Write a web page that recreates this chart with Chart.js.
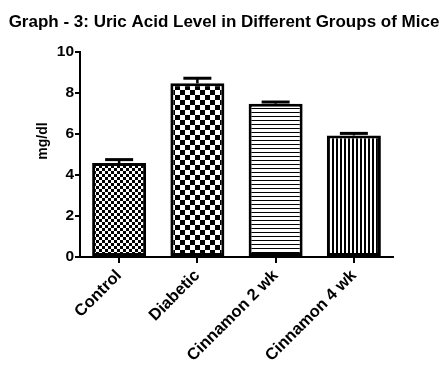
<!DOCTYPE html>
<html>
<head>
<meta charset="utf-8">
<script src="https://cdn.jsdelivr.net/npm/chart.js@4.4.0/dist/chart.umd.min.js"></script>
<style>
  html, body { margin: 0; padding: 0; background: #fff; }
  #wrap { width: 445px; height: 365px; position: relative; }
</style>
</head>
<body>
<div id="wrap"><canvas id="uricChart"></canvas></div>
<script>
// data
const groups = ['Control', 'Diabetic', 'Cinnamon 2 wk', 'Cinnamon 4 wk'];
const uricMeans = [4.58, 8.47, 7.48, 5.93];
const uricErrors = [0.17, 0.25, 0.08, 0.1];
const yTicks = [0, 2, 4, 6, 8, 10];
const chartTitle = 'Graph - 3: Uric Acid Level in Different Groups of Mice';
const FONT = 'Arial, "Liberation Sans", sans-serif';

// fill patterns like the GraphPad bars
function makePattern(kind) {
    const c = document.createElement('canvas');
    const g = c.getContext('2d');
    if (kind === 'checkSmall' || kind === 'checkBig') {
        const s = kind === 'checkSmall' ? 3 : 5;
        c.width = c.height = s * 2;
        g.fillStyle = '#fff';
        g.fillRect(0, 0, s * 2, s * 2);
        g.fillStyle = '#000';
        g.fillRect(0, 0, s, s);
        g.fillRect(s, s, s, s);
    } else if (kind === 'horiz') {
        c.width = 4; c.height = 4;
        g.fillStyle = '#fff';
        g.fillRect(0, 0, 4, 4);
        g.fillStyle = '#000';
        g.fillRect(0, 0, 4, 1);
    } else {
        c.width = 4; c.height = 4;
        g.fillStyle = '#fff';
        g.fillRect(0, 0, 4, 4);
        g.fillStyle = '#000';
        g.fillRect(0, 0, 2, 4);
    }
    return g.createPattern(c, 'repeat');
}
const fills = ['checkSmall', 'checkBig', 'horiz', 'vert'].map(makePattern);

// error bars (upper half only, the rest sits inside the bar)
const errorBars = {
    id: 'errorBars',
    afterDatasetsDraw(chart) {
        const ctx = chart.ctx;
        const meta = chart.getDatasetMeta(0);
        const y = chart.scales.y;
        ctx.save();
        ctx.strokeStyle = '#000';
        meta.data.forEach((bar, i) => {
            const top = y.getPixelForValue(uricMeans[i] + uricErrors[i]);
            ctx.lineWidth = 2.5;
            ctx.beginPath();
            ctx.moveTo(bar.x, bar.y);
            ctx.lineTo(bar.x, top);
            ctx.stroke();
            ctx.lineWidth = 3;
            ctx.beginPath();
            ctx.moveTo(bar.x - 14, top);
            ctx.lineTo(bar.x + 14, top);
            ctx.stroke();
        });
        ctx.restore();
    }
};

// title across the whole canvas and y axis title, placed like the original
const texts = {
    id: 'texts',
    afterDraw(chart) {
        const ctx = chart.ctx;
        ctx.save();
        ctx.fillStyle = '#000';
        ctx.textAlign = 'center';
        ctx.textBaseline = 'middle';
        ctx.font = 'bold 17px ' + FONT;
        ctx.fillText(chartTitle, 224, 22);
        ctx.translate(43, 141);
        ctx.rotate(-Math.PI / 2);
        ctx.font = 'bold 14px ' + FONT;
        ctx.fillText('mg/dl', 0, 0);
        ctx.restore();
    }
};

const ctx = document.getElementById('uricChart').getContext('2d');
new Chart(ctx, {
    type: 'bar',
    data: {
        labels: groups,
        datasets: [{
            data: uricMeans,
            backgroundColor: fills,
            borderColor: '#000',
            borderWidth: 3,
            borderSkipped: false,
            barPercentage: 0.69,
            categoryPercentage: 1.0
        }]
    },
    options: {
        responsive: true,
        maintainAspectRatio: false,
        animation: false,
        layout: { padding: { left: 0, right: 52, top: 52, bottom: 0 } },
        plugins: {
            legend: { display: false },
            tooltip: { enabled: false },
            title: { display: false }
        },
        scales: {
            x: {
                grid: { display: true, drawOnChartArea: false, offset: false, color: '#000', lineWidth: 2, tickLength: 6 },
                border: { display: true, color: '#000', width: 2 },
                ticks: {
                    color: '#000',
                    maxRotation: 45,
                    minRotation: 45,
                    padding: 3,
                    font: { family: FONT, size: 16.5, weight: 'bold' }
                },
                afterFit(scale) { scale.height = 108; }
            },
            y: {
                min: 0,
                max: 10,
                afterBuildTicks(scale) { scale.ticks = yTicks.map(v => ({ value: v })); },
                grid: { display: true, drawOnChartArea: false, color: '#000', lineWidth: 2, tickLength: 5 },
                border: { display: true, color: '#000', width: 2 },
                ticks: {
                    color: '#000',
                    padding: 1,
                    font: { family: FONT, size: 15.5, weight: 'bold' }
                },
                afterFit(scale) { scale.width = 80; }
            }
        }
    },
    plugins: [errorBars, texts]
});
</script>
</body>
</html>
